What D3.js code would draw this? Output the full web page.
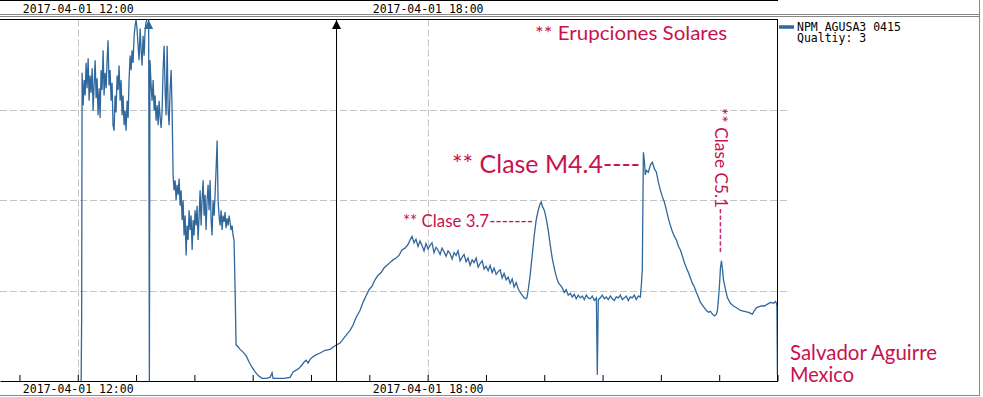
<!DOCTYPE html>
<html lang="es">
<head>
<meta charset="utf-8">
<title>NPM AGUSA3 0415 - Erupciones Solares</title>
<script src="https://d3js.org/d3.v7.min.js"></script>
<style>
  body { margin: 0; background: #fff; }
  svg { display: block; }
  .tlabel { font-family: "DejaVu Sans Mono", monospace; font-size: 11.5px; fill: #000; }
  .note { font-family: Lato, "Open Sans", sans-serif; fill: #c8124c; }
</style>
</head>
<body>
<script>
// signal samples: minute of the day (2017-04-01) and level
var minutes = [
  723.5, 724.0, 724.5, 725.5, 726.6, 727.6, 728.6, 729.6, 730.7, 731.7,
  732.7, 733.7, 734.8, 735.8, 736.8, 737.9, 738.9, 739.9, 740.9, 742.0,
  743.0, 744.0, 745.0, 746.1, 747.1, 748.1, 749.2, 750.2, 751.2, 752.2,
  753.3, 754.3, 755.3, 756.3, 757.4, 758.4, 759.4, 760.5, 761.5, 762.5,
  763.6, 764.6, 765.6, 766.6, 767.7, 768.7, 769.7, 770.8, 771.8, 772.8,
  773.9, 774.9, 775.9, 776.9, 778.0, 779.0, 780.0, 781.1, 782.1, 783.1,
  784.2, 785.2, 786.2, 787.2, 788.3, 789.3, 790.3, 791.4, 792.9, 793.7,
  794.3, 795.5, 796.5, 797.6, 798.6, 799.6, 800.6, 801.7, 802.7, 803.7,
  804.8, 805.8, 806.8, 807.8, 808.9, 809.9, 810.9, 812.0, 813.0, 814.0,
  815.0, 816.1, 817.1, 818.1,
  819.1, 820.2, 821.2, 822.2, 823.3, 824.3, 825.3, 826.3, 827.4, 828.4,
  829.4, 830.5, 831.5, 832.5, 833.5, 834.6, 835.6, 836.6, 837.7, 838.7,
  839.7, 840.7, 841.8, 842.8, 843.8, 844.9, 845.9, 846.9, 847.9, 849.0,
  850.0, 851.0, 852.0, 853.1, 854.1, 855.1, 856.2, 857.2, 858.2, 859.2,
  860.3, 861.3, 862.3, 863.4, 864.4, 865.4, 866.4, 867.5, 868.5, 869.5,
  870.6, 871.6, 872.6, 873.6, 874.7, 875.7, 876.7, 877.8, 878.8, 879.8,
  880.8, 881.9, 882.9,
  885.0, 887.0, 890.1, 893.2, 896.3, 899.4, 902.5, 905.6, 909.7, 913.8,
  917.9, 920.0, 921.0, 926.2, 932.3, 938.5, 941.6, 944.7, 947.7, 950.8,
  952.9, 955.0, 957.0, 959.1, 962.2, 965.2, 969.4, 974.5, 979.6, 984.8,
  989.9, 995.0, 1000.2, 1003.3, 1006.3, 1010.4, 1013.5, 1016.6, 1019.7, 1022.8,
  1025.9, 1029.0, 1032.1, 1035.1, 1038.2, 1041.3, 1044.4, 1047.5, 1050.6, 1053.6,
  1056.7, 1059.8, 1061.9, 1063.9, 1066.0, 1068.0, 1070.1, 1072.2, 1074.2, 1076.3,
  1078.3, 1080.4, 1082.5, 1084.5, 1086.6, 1088.7, 1090.7, 1092.8, 1094.8, 1096.9,
  1099.0, 1101.0, 1103.1, 1105.2, 1107.2, 1109.3, 1111.3, 1113.4, 1115.5, 1117.5,
  1119.6, 1121.6, 1123.7, 1125.8, 1127.8, 1129.9, 1132.0, 1134.0, 1136.1, 1138.1,
  1140.2, 1142.3, 1144.3, 1146.4, 1148.4, 1150.5, 1152.6, 1154.6, 1156.7, 1158.7,
  1160.8, 1162.9, 1164.9, 1167.0, 1169.0, 1171.1, 1173.2, 1175.2, 1177.3, 1179.4,
  1181.4, 1182.4, 1183.5, 1185.5, 1187.6, 1189.7, 1191.7, 1193.8, 1195.8, 1196.9,
  1197.9, 1200.0, 1202.0, 1204.1, 1206.2, 1208.2, 1210.3, 1212.3, 1214.4, 1216.5,
  1218.5, 1220.6, 1222.6, 1224.7, 1226.8, 1228.8, 1230.9, 1232.9, 1235.0, 1237.1,
  1239.1, 1241.2, 1243.3, 1245.3, 1247.4, 1249.4, 1251.5, 1253.6, 1254.6, 1255.6,
  1257.7, 1259.7, 1261.8, 1263.8, 1265.9, 1268.0, 1270.0, 1272.1, 1274.1, 1276.2,
  1278.3, 1280.3, 1282.4, 1284.4, 1286.5, 1288.6, 1290.6, 1292.7, 1294.7, 1296.8,
  1298.9, 1299.9, 1300.9, 1302.0, 1303.0, 1304.0, 1305.1, 1307.1, 1309.2, 1311.2,
  1313.3, 1315.4, 1317.4, 1319.5, 1321.5, 1323.6, 1325.7, 1327.7, 1329.8, 1331.9,
  1333.9, 1336.0, 1338.0, 1340.1, 1342.2, 1344.2, 1346.3, 1348.3, 1350.4, 1352.5,
  1354.5, 1356.6, 1358.6, 1360.7, 1362.8, 1364.8, 1366.9, 1368.9, 1371.0, 1373.1,
  1375.1, 1377.2, 1378.2, 1379.2, 1380.3, 1381.3, 1382.3, 1383.4, 1384.4, 1386.5,
  1388.5, 1391.6, 1394.7, 1397.8, 1401.9, 1406.0, 1410.1, 1414.2, 1416.3, 1418.3,
  1420.4, 1423.5, 1426.6, 1429.7, 1432.8, 1435.8, 1437.9, 1438.9, 1439.4, 1439.9
];

var signal = [
  0, 0.67, 3.41, 3.05, 3.33, 3.16, 3.52, 3.24, 3.57, 3.10,
  3.38, 3.19, 3.46, 2.99, 3.27, 3.55, 3.13, 3.35, 2.94, 3.24,
  2.91, 3.44, 3.22, 3.66, 3.16, 3.41, 3.24, 3.55, 3.77, 3.27,
  3.44, 3.10, 3.30, 2.83, 2.77, 3.16, 2.97, 3.38, 3.22, 3.49,
  3.10, 3.33, 2.94, 3.16, 2.83, 2.99, 2.77, 3.10, 2.91, 3.33,
  3.60, 3.44, 3.66, 3.52, 3.82, 3.93, 4.00, 3.88, 3.71, 3.55,
  3.90, 3.66, 3.49, 3.82, 3.60, 3.88, 3.97, 4.00, 4.30, 0,
  3.55, 3.27, 3.10, 3.33, 2.99, 3.16, 2.88, 3.05, 2.83, 3.10,
  2.91, 2.80, 2.99, 3.44, 3.71, 3.22, 2.94, 3.71, 2.99, 2.83,
  3.22, 3.44, 2.99, 2.28,
  2.11, 2.22, 2.00, 2.17, 2.06, 2.24, 1.94, 2.11, 1.78, 2.00,
  1.61, 1.83, 1.39, 1.72, 1.56, 1.89, 1.67, 1.83, 1.45, 1.78,
  1.61, 1.89, 1.72, 1.94, 1.56, 1.83, 2.11, 1.72, 2.00, 2.22,
  1.83, 2.06, 1.67, 2.00, 2.17, 1.89, 2.22, 1.78, 1.61, 2.00,
  1.83, 2.06, 2.33, 2.66, 2.00, 1.83, 1.72, 1.89, 1.67, 1.83,
  1.76, 1.87, 1.69, 1.80, 1.72, 1.83, 1.76, 1.67, 1.72, 1.61,
  1.56, 1.01, 0.40,
  0.38, 0.35, 0.32, 0.28, 0.21, 0.15, 0.10, 0.06, 0.03, 0.03,
  0.04, 0.09, 0.03, 0.03, 0.03, 0.04, 0.10, 0.12, 0.14, 0.18,
  0.21, 0.23, 0.20, 0.24, 0.27, 0.29, 0.31, 0.34, 0.35, 0.39,
  0.42, 0.49, 0.56, 0.62, 0.70, 0.78, 0.87, 0.94, 1.01, 1.05,
  1.12, 1.17, 1.20, 1.25, 1.28, 1.31, 1.34, 1.36, 1.39, 1.45,
  1.47, 1.51, 1.56, 1.60, 1.53, 1.57, 1.49, 1.55, 1.50, 1.44,
  1.52, 1.46, 1.50, 1.53, 1.42, 1.48, 1.45, 1.40, 1.47, 1.43,
  1.38, 1.44, 1.41, 1.35, 1.42, 1.39, 1.44, 1.33, 1.37, 1.40,
  1.32, 1.36, 1.28, 1.34, 1.31, 1.36, 1.26, 1.30, 1.33, 1.24,
  1.27, 1.22, 1.28, 1.20, 1.25, 1.18, 1.21, 1.23, 1.14, 1.19,
  1.12, 1.15, 1.08, 1.13, 1.04, 1.09, 1.02, 0.98, 0.95, 0.92,
  0.91, 0.93, 1.01, 1.17, 1.39, 1.61, 1.78, 1.89, 1.96, 1.98,
  1.94, 1.89, 1.80, 1.67, 1.50, 1.36, 1.25, 1.16, 1.09, 1.06,
  1.03, 0.98, 1.01, 0.95, 0.97, 0.93, 0.96, 0.91, 0.95, 0.92,
  0.94, 0.90, 0.95, 0.92, 0.91, 0.94, 0.89, 0.92, 0.07, 0.90,
  0.92, 0.95, 0.91, 0.93, 0.90, 0.94, 0.91, 0.89, 0.93, 0.92,
  0.95, 0.90, 0.92, 0.94, 0.89, 0.93, 0.92, 0.95, 0.90, 0.94,
  0.93, 1.06, 1.23, 2.53, 2.44, 2.28, 2.33, 2.31, 2.39, 2.42,
  2.35, 2.31, 2.20, 2.11, 2.04, 1.98, 1.89, 1.80, 1.72, 1.65,
  1.60, 1.56, 1.49, 1.45, 1.38, 1.31, 1.25, 1.20, 1.14, 1.08,
  1.04, 0.98, 0.93, 0.87, 0.84, 0.81, 0.78, 0.76, 0.77, 0.74,
  0.72, 0.74, 0.78, 0.90, 1.06, 1.25, 1.33, 1.23, 1.12, 1.01,
  0.92, 0.86, 0.83, 0.81, 0.78, 0.77, 0.76, 0.74, 0.78, 0.81,
  0.82, 0.83, 0.83, 0.85, 0.87, 0.86, 0.88, 0.86, 0.83, 0.07
];

var markerMinutes = [985.8];          // black event marker
var gridLevels = [1, 2, 3];
var labelHours = [12, 18];
var legendLines = ["NPM AGUSA3 0415", "Qualtiy: 3"];

var W = 983, H = 397;
var plotL = 0, plotR = 777.5, plotT = 19.5, plotB = 381;
var lineColor = "#30679d";

var day = new Date(2017, 3, 1);
function toDate(m) { return new Date(day.getTime() + m * 60000); }

var data = minutes.map(function(m, i) { return { t: toDate(m), v: signal[i] }; });

var x = d3.scaleTime().domain([toDate(640), toDate(1440)]).range([plotL, plotR]);
var y = d3.scaleLinear().domain([0, 4]).range([plotB, plotT]);

var svg = d3.select("body").append("svg")
  .attr("width", W)
  .attr("height", H);

function hline(yy, x1, x2, col) {
  svg.append("line").attr("x1", x1).attr("x2", x2).attr("y1", yy).attr("y2", yy)
    .attr("stroke", col).attr("stroke-width", 1);
}
function vline(xx, y1, y2, col) {
  svg.append("line").attr("x1", xx).attr("x2", xx).attr("y1", y1).attr("y2", y2)
    .attr("stroke", col).attr("stroke-width", 1);
}

// grid
svg.append("g").selectAll("line").data(gridLevels).enter().append("line")
  .attr("x1", plotL).attr("x2", plotR + 10)
  .attr("y1", function(d) { return Math.round(y(d)) + 0.5; })
  .attr("y2", function(d) { return Math.round(y(d)) + 0.5; })
  .attr("stroke", "#c4c4c4").attr("stroke-dasharray", "7,3");

var labelDates = labelHours.map(function(h) { return toDate(h * 60); });
svg.append("g").selectAll("line").data(labelDates).enter().append("line")
  .attr("x1", function(d) { return Math.round(x(d)) + 0.5; })
  .attr("x2", function(d) { return Math.round(x(d)) + 0.5; })
  .attr("y1", plotT).attr("y2", plotB)
  .attr("stroke", "#c4c4c4").attr("stroke-dasharray", "7,3");

// frame
hline(0.5, 0, 778, "#000");
hline(14.5, 0, 980, "#888");
hline(16.5, 0, 980, "#888");
hline(plotT, 0, 778, "#000");
vline(plotR, plotT, plotB, "#000");
vline(979.5, 0, 396, "#888");
hline(395.5, 0, 980, "#888");

// hour ticks on the bottom axis
svg.append("g")
  .attr("transform", "translate(0," + plotB + ")")
  .call(d3.axisBottom(x).ticks(d3.timeHour.every(1)).tickSizeInner(-6).tickSizeOuter(0).tickFormat(""))
  .call(function(g) { g.select(".domain").attr("stroke", "#000"); });

var fmt = d3.timeFormat("%Y-%m-%d %H:%M");

svg.append("g")
  .attr("transform", "translate(0," + plotB + ")")
  .call(d3.axisBottom(x).tickValues(labelDates).tickSize(0).tickPadding(4).tickFormat(fmt))
  .call(function(g) {
    g.select(".domain").remove();
    g.selectAll("text").attr("class", "tlabel").attr("font-family", null).attr("font-size", null);
  });

svg.append("g")
  .attr("transform", "translate(0,14)")
  .call(d3.axisTop(x).tickValues(labelDates).tickSize(0).tickPadding(1.5).tickFormat(fmt))
  .call(function(g) {
    g.select(".domain").remove();
    g.selectAll("text").attr("class", "tlabel").attr("font-family", null).attr("font-size", null);
  });

// series
svg.append("clipPath").attr("id", "plotclip").append("rect")
  .attr("x", plotL).attr("y", plotT).attr("width", plotR - plotL).attr("height", plotB - plotT);

var line = d3.line()
  .x(function(d) { return x(d.t); })
  .y(function(d) { return y(d.v); });

svg.append("path")
  .datum(data)
  .attr("clip-path", "url(#plotclip)")
  .attr("fill", "none")
  .attr("stroke", lineColor)
  .attr("stroke-width", 1.3)
  .attr("d", line);

function upArrow(xx, col) {
  svg.append("path")
    .attr("d", "M" + xx + "," + (plotT + 0.5) + " l4.5,9 l-9,0 z")
    .attr("fill", col);
}

// off-scale samples
data.filter(function(d) { return d.v > 4; }).forEach(function(d) { upArrow(x(d.t), lineColor); });

// event marker
markerMinutes.forEach(function(m) {
  var mx = Math.round(x(toDate(m))) + 0.5;
  vline(mx, plotT, plotB, "#000");
  upArrow(mx, "#000");
});

// legend
svg.append("line").attr("x1", 779).attr("x2", 794).attr("y1", 27).attr("y2", 27)
  .attr("stroke", lineColor).attr("stroke-width", 3.5);
svg.selectAll(".leg").data(legendLines).enter().append("text")
  .attr("class", "tlabel")
  .attr("x", 797)
  .attr("y", function(d, i) { return 30.7 + i * 11.3; })
  .attr("xml:space", "preserve")
  .text(function(d) { return d; });

// notes
function note(txt, m, v, size, len, rot) {
  var t = svg.append("text").attr("class", "note")
    .attr("font-size", size)
    .attr("textLength", len)
    .attr("lengthAdjust", "spacingAndGlyphs")
    .text(txt);
  var px = x(toDate(m)), py = y(v);
  if (rot) t.attr("transform", "translate(" + px + "," + py + ") rotate(90)");
  else t.attr("x", px).attr("y", py);
}
note("** Erupciones Solares", 1190.6, 3.77, 20, 192);
note("** Clase M4.4----", 1105.1, 2.30, 25, 188);
note("** Clase 3.7-------", 1054.6, 1.70, 17, 130);
note("** Clase C5.1-------", 1375.6, 3.02, 17, 145, true);

svg.append("text").attr("class", "note").attr("font-size", 21)
  .attr("x", 790).attr("y", 360).attr("textLength", 147).attr("lengthAdjust", "spacingAndGlyphs")
  .text("Salvador Aguirre");
svg.append("text").attr("class", "note").attr("font-size", 21)
  .attr("x", 790).attr("y", 381.5).attr("textLength", 64).attr("lengthAdjust", "spacingAndGlyphs")
  .text("Mexico");
</script>
</body>
</html>
